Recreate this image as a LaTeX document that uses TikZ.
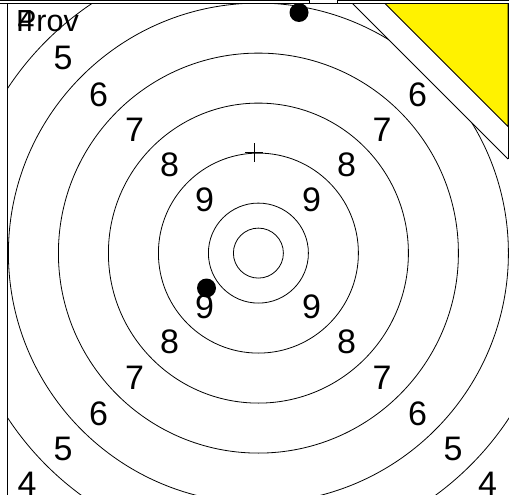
\documentclass[tikz,border=0pt]{standalone}
\usepackage{fontspec}
\setmainfont{Liberation Sans}
\begin{document}
\begin{tikzpicture}[x=1pt,y=-1pt,
  ring/.style={draw=black,line width=0.8pt},
  frameline/.style={draw=black,line width=1pt},
  lbl/.style={inner sep=0pt,anchor=center,font=\fontsize{34}{34}\selectfont},
  toplbl/.style={inner sep=0pt,anchor=base west,font=\fontsize{30.5}{30.5}\selectfont},
  shot/.style={fill=black,draw=none}]
\useasboundingbox (0,0) rectangle (509,495);
\coordinate (c) at (258.4,253.1);
% rings
\begin{scope}
  \clip (7.5,3.5) rectangle (509,495);
  \foreach \r in {25,50,100,150,200,250,300}
    \draw[ring] (c) circle[radius=\r];
\end{scope}
% cross mark
\coordinate (x0) at (254.3,152);
\draw[line width=0.8pt] ([xshift=-9pt]x0) -- ([xshift=9pt]x0);
\draw[line width=0.8pt] ([yshift=-9.5pt]x0) -- ([yshift=9.5pt]x0);
% labels upper left
\node[lbl] (ul9) at (204.5,200) {9};
\node[lbl] (ul8) at (169.5,165) {8};
\node[lbl] (ul7) at (134.5,129.5) {7};
\node[lbl] (ul6) at (98.5,94.5) {6};
\node[lbl] (ul5) at (63,57.5) {5};
% upper right
\node[lbl] (ur9) at (311.5,200) {9};
\node[lbl] (ur8) at (346.5,165) {8};
\node[lbl] (ur7) at (382,129.5) {7};
\node[lbl] (ur6) at (417.5,94.5) {6};
% lower left
\node[lbl] (ll9) at (204.5,306.5) {9};
\node[lbl] (ll8) at (169.5,341.5) {8};
\node[lbl] (ll7) at (134.5,377.5) {7};
\node[lbl] (ll6) at (98.5,413.5) {6};
\node[lbl] (ll5) at (63,448.5) {5};
\node[lbl] (ll4) at (27,484) {4};
% lower right
\node[lbl] (lr9) at (311.5,306.5) {9};
\node[lbl] (lr8) at (346.5,341.5) {8};
\node[lbl] (lr7) at (382,377.5) {7};
\node[lbl] (lr6) at (417.5,413.5) {6};
\node[lbl] (lr5) at (453,448.5) {5};
\node[lbl] (lr4) at (487.5,484) {4};
% top-left texts
\node[toplbl] (prov) at (15.9,31.7) {Prov};
\node[toplbl] (ul4) at (17.5,31.7) {4};
% shots
\fill[shot] (299,12.5) circle[radius=9.5];
\fill[shot] (206.5,288) circle[radius=9.5];
% upper right cover
\fill[white] (352.5,3.5) -- (508,159) -- (508,3.5) -- cycle;
\draw[frameline,line width=0.8pt] (352.5,3.5) -- (508,159);
\filldraw[fill=yellow,draw=black,line width=0.8pt] (385,3.5) -- (508,126.5) -- (508,3.5) -- cycle;
\draw[frameline] (508,3.5) -- (508,159);
% frame
\draw[frameline] (0,3.5) -- (509,3.5);
\draw[frameline] (0,0.7) -- (309,0.7) -- (309,3.5);
\draw[frameline] (337,3.5) -- (337,0.7) -- (509,0.7);
\draw[frameline] (7.5,3.5) -- (7.5,495);
\end{tikzpicture}
\end{document}
